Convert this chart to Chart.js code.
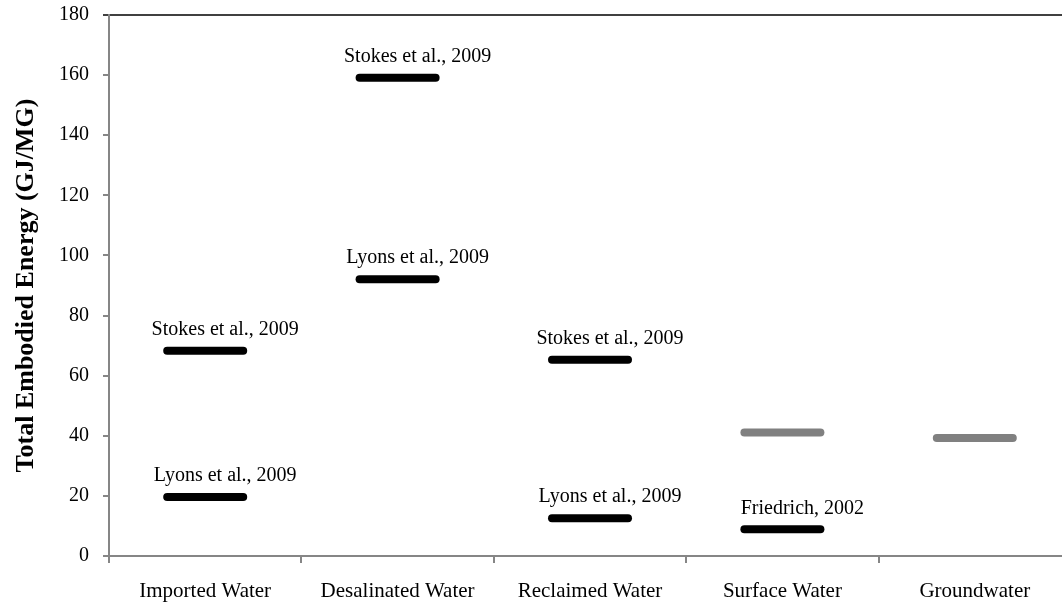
<!DOCTYPE html>
<html>
<head>
<meta charset="utf-8">
<script src="https://cdn.jsdelivr.net/npm/chart.js@4/dist/chart.umd.min.js"></script>
<style>
  html, body { margin: 0; padding: 0; background: #fff; overflow: hidden; }
  #wrap { width: 1072px; height: 605px; position: relative; }
</style>
</head>
<body>
<div id="wrap"><canvas id="energyChart"></canvas></div>
<script>
// categories and values
const categories = ['Imported Water', 'Desalinated Water', 'Reclaimed Water', 'Surface Water', 'Groundwater'];
const stokes2009 = [68.3, 159.1, 65.3, null, null];
const lyons2009 = [19.6, 92.1, 12.6, null, null];
const friedrich2002 = [null, null, null, 8.9, null];
const otherEstimates = [null, null, null, 41.1, 39.3];
const yTicks = [0, 20, 40, 60, 80, 100, 120, 140, 160, 180];

const serif = "'Liberation Serif', 'DejaVu Serif', serif";
const axisGrey = '#868686';

// dash markers get rounded ends like the original
const roundCaps = {
  id: 'roundCaps',
  beforeDatasetsDraw(chart) { chart.ctx.lineCap = 'round'; }
};

// source names written above each black dash
const notes = {
  id: 'notes',
  afterDatasetsDraw(chart) {
    const ctx = chart.ctx;
    ctx.save();
    ctx.font = '20px ' + serif;
    ctx.fillStyle = '#000';
    ctx.textAlign = 'center';
    ctx.textBaseline = 'middle';
    chart.data.datasets.forEach((ds, i) => {
      if (!ds.note) return;
      chart.getDatasetMeta(i).data.forEach((pt, j) => {
        if (ds.data[j] == null) return;
        ctx.fillText(ds.label, pt.x + 20, pt.y - 21);
      });
    });
    ctx.restore();
  }
};

const dash = (label, data, color, note) => ({
  label, data, note,
  showLine: false,
  clip: false,
  pointStyle: 'line',
  pointRadius: 38,
  pointHoverRadius: 38,
  pointBorderWidth: 8,
  pointHoverBorderWidth: 8,
  pointBorderColor: color,
  pointBackgroundColor: color,
  borderColor: color
});

new Chart(document.getElementById('energyChart'), {
  type: 'line',
  data: {
    labels: categories,
    datasets: [
      dash('Stokes et al., 2009', stokes2009, '#000', true),
      dash('Lyons et al., 2009', lyons2009, '#000', true),
      dash('Friedrich, 2002', friedrich2002, '#000', true),
      dash('Other', otherEstimates, '#808080', false)
    ]
  },
  options: {
    responsive: true,
    maintainAspectRatio: false,
    animation: false,
    layout: { autoPadding: false, padding: { top: 15, right: 1, bottom: 0, left: 0 } },
    plugins: { legend: { display: false }, tooltip: { enabled: false } },
    scales: {
      x: {
        offset: true,
        grid: { offset: true, drawOnChartArea: false, tickLength: 7, color: axisGrey, lineWidth: 2 },
        border: { color: axisGrey, width: 2 },
        ticks: { color: '#000', font: { family: serif, size: 21 }, padding: 16, maxRotation: 0, autoSkip: false },
        afterFit(scale) { scale.height = 49; scale.paddingLeft = 0; scale.paddingRight = 0; }
      },
      y: {
        min: 0,
        max: 180,
        afterBuildTicks(scale) { scale.ticks = yTicks.map(v => ({ value: v })); },
        grid: {
          color: c => (c.tick && c.tick.value === 180 ? '#404040' : 'transparent'),
          tickColor: c => (c.tick && c.tick.value === 180 ? '#404040' : axisGrey),
          lineWidth: 2,
          tickLength: 6
        },
        border: { color: axisGrey, width: 2 },
        ticks: { color: '#000', font: { family: serif, size: 20 }, padding: 14 },
        title: {
          display: true,
          text: 'Total Embodied Energy (GJ/MG)',
          color: '#000',
          font: { family: serif, size: 26, weight: 'bold' },
          padding: { top: 11, bottom: 0 }
        },
        afterFit(scale) { scale.width = 109; scale.paddingTop = 0; scale.paddingBottom = 0; }
      }
    }
  },
  plugins: [roundCaps, notes]
});
</script>
</body>
</html>
